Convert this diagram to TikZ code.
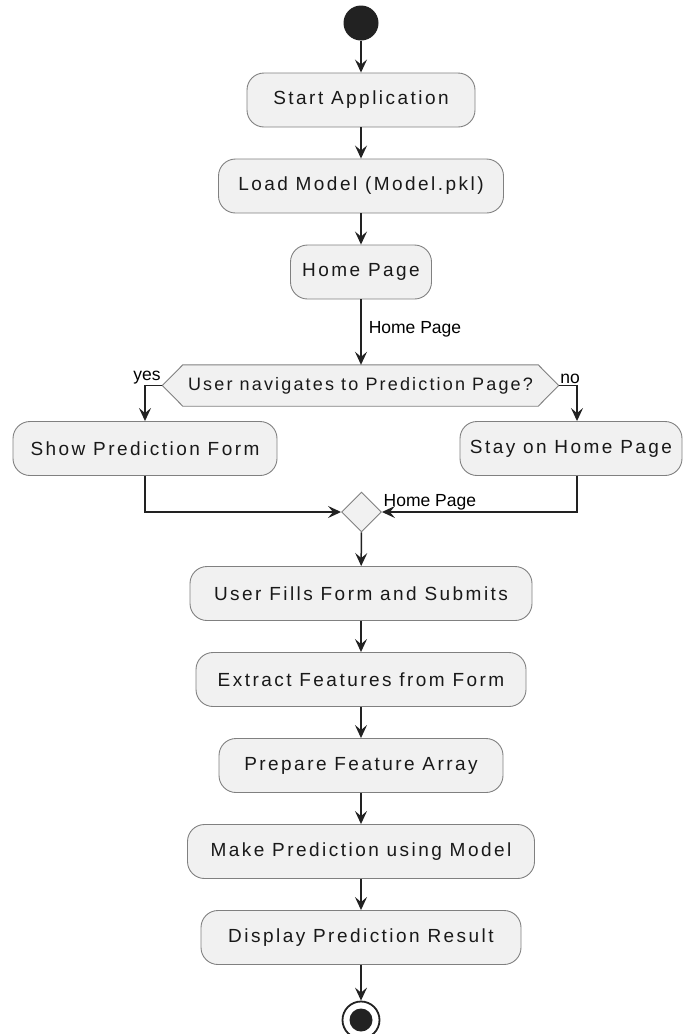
\documentclass[tikz,border=0pt]{standalone}
\usepackage{fontspec}
\setmainfont{Liberation Sans}
\newfontfamily\actfont[LetterSpace=13]{Liberation Sans}
\newfontfamily\askfont[LetterSpace=12]{Liberation Sans}
\usepackage{tikz}
\usetikzlibrary{arrows.meta,shapes.geometric,backgrounds}
\definecolor{actfill}{HTML}{F1F1F1}
\definecolor{actline}{HTML}{222222}

\begin{document}
\begin{tikzpicture}[x=1pt,y=-1pt,>={Stealth[length=13pt,width=12pt,inset=5pt]},node distance=86pt,
    act/.style={draw=black!50,line width=0.9pt,fill=actfill,rounded corners=17pt,minimum height=54pt,
        inner sep=0pt,text=black!90,font=\actfont\fontsize{19}{22}\selectfont},
    ask/.style={minimum height=41pt,minimum width=355pt,inner sep=0pt,text=black!90,
        font=\askfont\fontsize{18}{21}\selectfont},
    merge/.style={diamond,aspect=1,draw=black!50,line width=0.9pt,fill=actfill,minimum size=40pt,inner sep=0pt},
    init/.style={circle,fill=actline,minimum size=35pt,inner sep=0pt},
    final/.style={circle,draw=actline,line width=1.8pt,fill=white,minimum size=37pt,inner sep=0pt,
        path picture={\fill[actline] (path picture bounding box.center) circle (11.5pt);}},
    lbl/.style={font=\fontsize{17.5}{19}\selectfont,inner sep=1pt,text=black},
    flow/.style={->,line width=1.5pt,draw=actline}]
    \useasboundingbox (0,0) rectangle (683,1034);
    \node[init]                         (s0) at (361,23)    {};
    \node[act,minimum width=228pt]      (app) at (361,100)  {Start Application};
    \node[act,minimum width=285pt]      (load) [below of = app] {Load Model (Model.pkl)};
    \node[act,minimum width=141pt]      (home) [below of = load] {Home Page};
    \node[ask]                          (ask) at (360.5,385.5) {User navigates to Prediction Page?};
    \node[act,minimum width=264pt]      (form) at (145,448.5) {Show Prediction Form};
    \node[act,minimum width=222pt]      (stay) at (571,448.5) {Stay on Home Page};
    \node[merge]                        (m) at (361.5,512)  {};
    \node[act,minimum width=342pt]      (fill) at (361,593.5) {User Fills Form and Submits};
    \node[act,minimum width=330pt]      (ext) [below of = fill] {Extract Features from Form};
    \node[act,minimum width=284pt]      (prep) [below of = ext] {Prepare Feature Array};
    \node[act,minimum width=347pt]      (pred) [below of = prep] {Make Prediction using Model};
    \node[act,minimum width=320pt]      (res) [below of = pred] {Display Prediction Result};
    \node[final]                        (s1) at (361,1020)  {};
    % hexagon tips of the question
    \coordinate (yt) at ([xshift=-20.5pt]ask.west);
    \coordinate (nt) at ([xshift=20.5pt]ask.east);
    \begin{scope}[on background layer]
        \filldraw[draw=black!50,line width=0.9pt,fill=actfill] (yt) -- (ask.north west) -- (ask.north east)
            -- (nt) -- (ask.south east) -- (ask.south west) -- cycle;
    \end{scope}
    \draw[flow] (s0) -- (app);
    \draw[flow] (app) -- (load);
    \draw[flow] (load) -- (home);
    \draw[flow] (home.south) to node[lbl,right=6pt,pos=0.45]{Home Page} (home.south |- ask.north);
    \draw[flow] (yt) -| node[lbl,pos=0,anchor=south east]{yes} (form.north);
    \draw[flow] (nt) -| node[lbl,pos=0,anchor=south west]{no} ([xshift=6pt]stay.north);
    \draw[flow] (form.south) |- (m.west);
    \draw[flow] ([xshift=6pt]stay.south) |- node[lbl,pos=1,anchor=south west]{Home Page} (m.east);
    \draw[flow] (m) -- (fill);
    \draw[flow] (fill) -- (ext);
    \draw[flow] (ext) -- (prep);
    \draw[flow] (prep) -- (pred);
    \draw[flow] (pred) -- (res);
    \draw[flow] (res) -- (s1);
\end{tikzpicture}
\end{document}
